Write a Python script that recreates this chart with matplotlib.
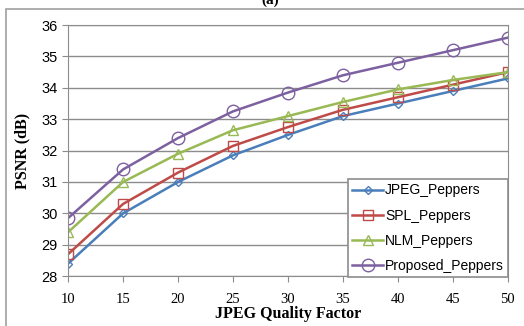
import matplotlib.pyplot as plt
from matplotlib.patches import Rectangle

# JPEG quality factors and PSNR values (dB)
quality = [10, 15, 20, 25, 30, 35, 40, 45, 50]
jpeg = [28.4, 30.0, 31.0, 31.85, 32.5, 33.1, 33.5, 33.9, 34.3]
spl = [28.7, 30.3, 31.3, 32.15, 32.75, 33.3, 33.7, 34.1, 34.5]
nlm = [29.4, 31.0, 31.9, 32.65, 33.1, 33.55, 33.95, 34.25, 34.5]
proposed = [29.85, 31.4, 32.4, 33.25, 33.85, 34.4, 34.8, 35.2, 35.6]
yticks = [28, 29, 30, 31, 32, 33, 34, 35, 36]

fig = plt.figure(figsize=(5.24, 3.26), dpi=100)
ax = fig.add_axes([0.130, 0.153, 0.839, 0.770])

# outer chart border (clipped at right/bottom like the source)
fig.patches.append(Rectangle((6 / 524, -0.1), 1.2, 1 - 9 / 326 + 0.1,
                             transform=fig.transFigure, fill=False,
                             edgecolor='#a0a0a0', linewidth=1.2))
fig.text(0.515, 0.998, '(a)', ha='center', va='center', fontsize=11,
         family='Liberation Serif', fontweight='bold')

ax.plot(quality, jpeg, color='#4a7ebb', marker='D', markersize=4,
        markerfacecolor='none', markeredgewidth=1, linewidth=1.8, label='JPEG_Peppers')
ax.plot(quality, spl, color='#be4b48', marker='s', markersize=7,
        markerfacecolor='none', markeredgewidth=1, linewidth=1.8, label='SPL_Peppers')
ax.plot(quality, nlm, color='#98b954', marker='^', markersize=7,
        markerfacecolor='none', markeredgewidth=1, linewidth=1.8, label='NLM_Peppers')
ax.plot(quality, proposed, color='#7d60a0', marker='o', markersize=9,
        markerfacecolor='none', markeredgewidth=1, linewidth=1.8, label='Proposed_Peppers')

ax.set_xlim(10, 50)
ax.set_ylim(28, 36)
ax.set_xticks(quality)
ax.set_yticks(yticks)
ax.grid(axis='y', color='#8c8c8c', linewidth=1)
ax.set_axisbelow(True)
for s in ax.spines.values():
    s.set_color('#8c8c8c')
ax.tick_params(axis='both', color='#8c8c8c', length=4)
ax.tick_params(axis='y', direction='out')
ax.tick_params(axis='x', direction='out', pad=8)

for lbl in ax.get_yticklabels():
    lbl.set_family('Liberation Sans')
    lbl.set_fontsize(10.5)
for lbl in ax.get_xticklabels():
    lbl.set_family('Liberation Serif')
    lbl.set_fontsize(10.5)

ax.set_xlabel('JPEG Quality Factor', family='Liberation Serif', fontweight='bold',
              fontsize=11.5, labelpad=0)
ax.set_ylabel('PSNR (dB)', family='Liberation Serif', fontweight='bold',
              fontsize=11.5, labelpad=8)

leg = ax.legend(loc='lower right', bbox_to_anchor=(1.002, -0.006), fancybox=False,
                framealpha=1, edgecolor='#8c8c8c', handlelength=2.2,
                handletextpad=0.15, borderpad=0.3, borderaxespad=0.05,
                labelspacing=0.8,
                prop={'family': 'Liberation Sans', 'size': 10})
leg.get_frame().set_linewidth(1.2)

fig.savefig('out.png', dpi=100)
